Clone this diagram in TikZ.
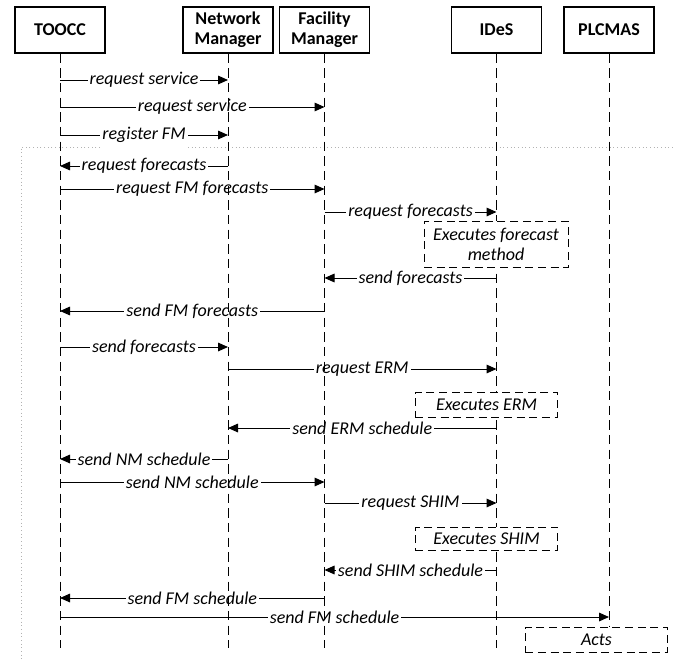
\documentclass[tikz,border=0pt]{standalone}
\usepackage{fontspec}
\setmainfont{Carlito}
\usetikzlibrary{arrows.meta,positioning}

\begin{document}
\begin{tikzpicture}[x=0.75pt, y=-0.75pt, >={Triangle[length=7.5pt,width=6.5pt]},
    every node/.style={font=\fontsize{13.5}{15}\selectfont},
    actor/.style={draw, line width=0.9pt, fill=white, minimum width=67.5pt, minimum height=34.5pt, align=center, font=\fontsize{13.5}{15}\selectfont\bfseries},
    life/.style={dash pattern=on 7pt off 4pt, line width=0.75pt},
    msg/.style={->, line width=0.75pt},
    lbl/.style={fill=white, inner sep=1.5pt, font=\fontsize{13.5}{15}\selectfont\itshape},
    task/.style={draw, dash pattern=on 6pt off 3.5pt, line width=0.75pt, fill=white, align=center, inner sep=1pt, font=\fontsize{13.5}{15}\selectfont\itshape}]
  \useasboundingbox (0,0) rectangle (673,660);

  % participants
  \node[actor] (toocc) at (60,30) {TOOCC};
  \node[actor] (nm) at (228,30) {Network\\Manager};
  \node[actor] (fm) at (324.5,30) {Facility\\Manager};
  \node[actor] (ides) at (496.5,30) {IDeS};
  \node[actor] (plc) at (609,30) {PLCMAS};

  % loop frame
  \draw[gray!60, dotted, line width=0.75pt] (100,147) -| (21,660);
  \draw[gray!60, dotted, line width=0.75pt] (188,147) -- (673,147);

  % messages
  \draw[msg] (toocc |- 0,80) -- node[lbl]{request service} (nm |- 0,80);
  \draw[msg] (toocc |- 0,107) -- node[lbl]{request service} (fm |- 0,107);
  \draw[msg] (toocc |- 0,135) -- node[lbl]{register FM} (nm |- 0,135);
  \draw[msg] (nm |- 0,166) -- node[lbl]{request forecasts} (toocc |- 0,166);
  \draw[msg] (toocc |- 0,189) -- node[lbl]{request FM forecasts} (fm |- 0,189);
  \draw[msg] (fm |- 0,212) -- node[lbl]{request forecasts} (ides |- 0,212);
  \draw[msg] (ides |- 0,278) -- node[lbl]{send forecasts} (fm |- 0,278);
  \draw[msg] (fm |- 0,311) -- node[lbl]{send FM forecasts} (toocc |- 0,311);
  \draw[msg] (toocc |- 0,347) -- node[lbl]{send forecasts} (nm |- 0,347);
  \draw[msg] (nm |- 0,369) -- node[lbl]{request ERM} (ides |- 0,369);
  \draw[msg] (ides |- 0,428) -- node[lbl]{send ERM schedule} (nm |- 0,428);
  \draw[msg] (nm |- 0,459) -- node[lbl]{send NM schedule} (toocc |- 0,459);
  \draw[msg] (toocc |- 0,482) -- node[lbl]{send NM schedule} (fm |- 0,482);
  \draw[msg] (fm |- 0,503) -- node[lbl]{request SHIM} (ides |- 0,503);
  \draw[msg] (ides |- 0,570) -- node[lbl]{send SHIM schedule} (fm |- 0,570);
  \draw[msg] (fm |- 0,598) -- node[lbl]{send FM schedule} (toocc |- 0,598);
  \draw[msg] (toocc |- 0,617) -- node[lbl]{send FM schedule} (plc |- 0,617);

  % lifelines
  \foreach \p in {toocc,nm,fm,ides,plc}
    \draw[life] (\p.south) -- (\p |- 0,648);

  % activities
  \node[task, minimum width=108pt, minimum height=35pt] (fcast) at (496,244.5) {Executes forecast\\method};
  \node[task, minimum width=107pt, minimum height=18.75pt] (erm) at (486.5,404.5) {Executes ERM};
  \node[task, minimum width=107pt, minimum height=17.25pt] (shim) at (486.5,538.5) {Executes SHIM};
  \node[task, minimum width=107pt, minimum height=18.75pt] (acts) at (596.5,639.5) {Acts};
\end{tikzpicture}
\end{document}
